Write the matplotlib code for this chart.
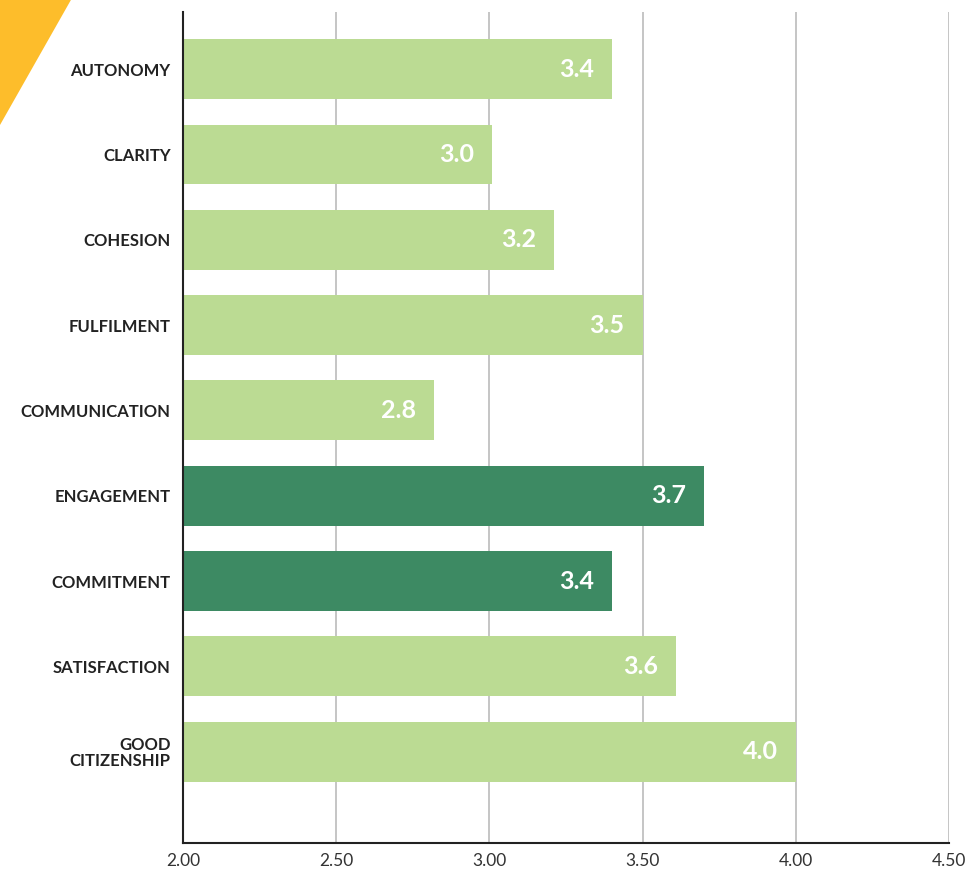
import matplotlib.pyplot as plt
from matplotlib.patches import Polygon

categories = ["AUTONOMY", "CLARITY", "COHESION", "FULFILMENT", "COMMUNICATION",
              "ENGAGEMENT", "COMMITMENT", "SATISFACTION", "GOOD\nCITIZENSHIP"]
scores = [3.40, 3.01, 3.21, 3.50, 2.82, 3.70, 3.40, 3.61, 4.00]
highlight = [False, False, False, False, False, True, True, False, False]
xticks = [2.0, 2.5, 3.0, 3.5, 4.0, 4.5]

light = "#bbdb93"
dark = "#3d8a63"

fig = plt.figure(figsize=(9.71, 8.73), dpi=100)
ax = fig.add_axes([0.1885, 0.0344, 0.7888, 0.952])

# yellow corner decoration
fig.patches.append(Polygon([(0, 1), (0.073, 1), (0.0, 1 - 125 / 873)], closed=True,
                           transform=fig.transFigure, facecolor="#fdbd2b",
                           edgecolor="none", zorder=0))

y = list(range(len(categories)))
colors = [dark if h else light for h in highlight]
ax.barh(y, [s - 2.0 for s in scores], left=2.0, height=0.7, color=colors, zorder=2)

for yi, s in zip(y, scores):
    ax.annotate(f"{s:.1f}", xy=(s, yi), xytext=(-13, 0), textcoords="offset points",
                ha="right", va="center", color="white", fontsize=18,
                fontweight="bold", family="Lato")

ax.set_xlim(2.0, 4.5)
ax.set_ylim(len(categories) - 1 + 1.07, -0.67)
ax.set_xticks(xticks)
ax.set_xticklabels([f"{t:.2f}" for t in xticks], fontsize=12.5, color="#333333", family="Lato")
ax.set_yticks(y)
ax.set_yticklabels(categories, fontsize=12, fontweight="bold", color="#222222",
                   family="Lato", linespacing=1.0)
ax.tick_params(axis="both", length=0)
ax.tick_params(axis="x", pad=7)
ax.tick_params(axis="y", pad=9)

ax.grid(axis="x", color="#bbbbbb", linewidth=1.2, zorder=0)
ax.set_axisbelow(True)
for side in ["top", "right"]:
    ax.spines[side].set_visible(False)
ax.spines["left"].set_color("#222222")
ax.spines["bottom"].set_color("#222222")
ax.spines["left"].set_linewidth(1.5)
ax.spines["bottom"].set_linewidth(1.5)

fig.savefig("out.png", dpi=100)
